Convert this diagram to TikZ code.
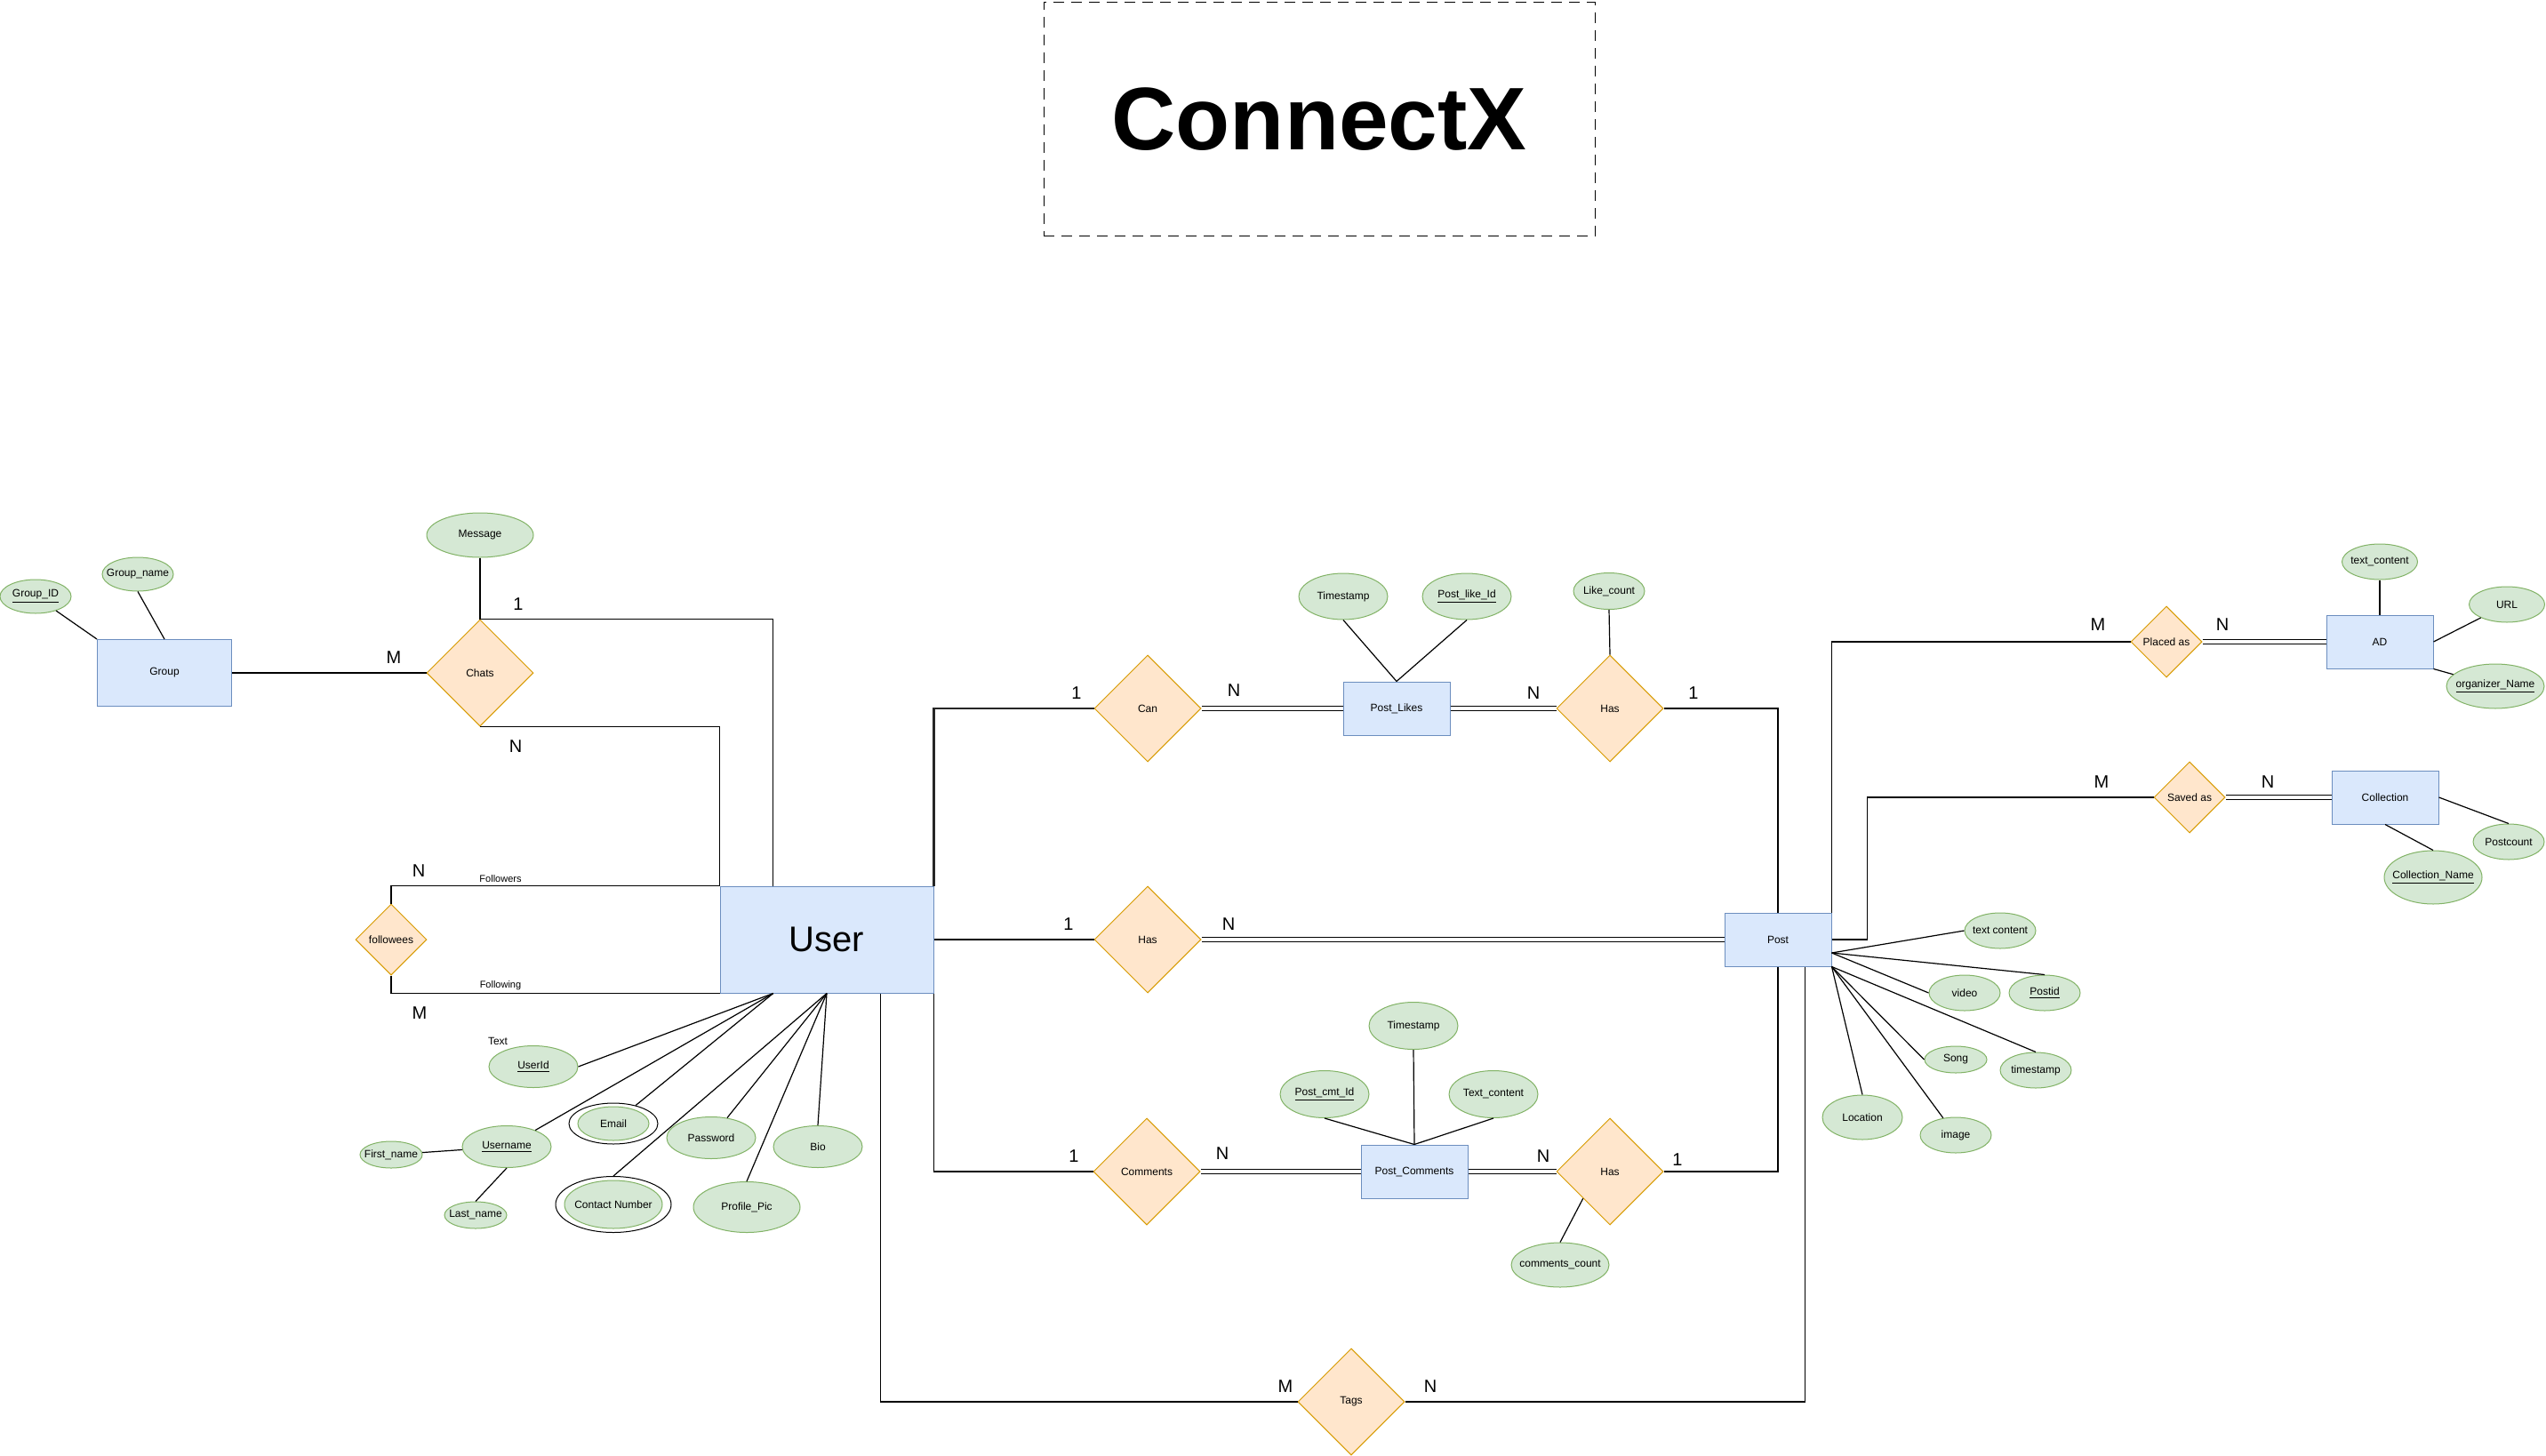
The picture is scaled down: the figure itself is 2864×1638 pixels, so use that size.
\documentclass[tikz,border=0pt]{standalone}
\usepackage{fontspec}
\setmainfont{Liberation Sans}
\usetikzlibrary{shapes.geometric,calc}
\definecolor{entf}{HTML}{DAE8FC}
\definecolor{entd}{HTML}{6C8EBF}
\definecolor{relf}{HTML}{FFE6CC}
\definecolor{reld}{HTML}{D79B00}
\definecolor{attf}{HTML}{D5E8D4}
\definecolor{attd}{HTML}{82B366}
\newcommand{\lblfont}{\fontsize{6}{7}\selectfont}
\newcommand{\cardfont}{\fontsize{10}{12}\selectfont}
\begin{document}
\begin{tikzpicture}[x=0.5pt,y=-0.5pt,
  ent/.style={rectangle,draw=entd,fill=entf,line width=0.5pt,inner sep=0pt,font=\lblfont},
  rel/.style={diamond,draw=reld,fill=relf,line width=0.5pt,inner sep=0pt,font=\lblfont},
  att/.style={ellipse,draw=attd,fill=attf,line width=0.5pt,inner xsep=-6pt,inner ysep=0pt,font=\lblfont},
  ring/.style={ellipse,draw=black,fill=white,line width=0.5pt,inner sep=0pt},
  conn/.style={draw=black,line width=0.6pt},
  thickconn/.style={draw=black!85,line width=1.1pt},
  dbl/.style={draw=black,double=white,double distance=1.6pt,line width=0.5pt},
  card/.style={font=\cardfont,inner sep=0pt},
  edgelbl/.style={font=\fontsize{5.5}{6.5}\selectfont,inner sep=0pt},
  wh/.style 2 args={minimum width={(#1)*0.5pt},minimum height={(#2)*0.5pt}}]

\useasboundingbox (0,0) rectangle (2864,1638);
\fill[white] (0,0) rectangle (2864,1638);

% Title
\node[draw=black,dash pattern=on 6pt off 4pt,line width=0.5pt,wh={620}{263},inner sep=0pt,
  font=\fontsize{50}{60}\selectfont\bfseries] (title) at (1484,134) {ConnectX};

% Group side
\node[ent,wh={151}{75}] (grp) at (185,757) {Group};
\node[att,wh={80}{38}] (gid) at (40,671) {\underline{Group\_ID}};
\node[att,wh={80}{38}] (gname) at (155,646) {Group\_name};
\node[att,wh={120}{50}] (msg) at (540,602) {Message};
\node[rel,wh={120}{120}] (chats) at (540,757) {Chats};
\node[rel,wh={80}{80}] (fol) at (440,1057) {followees};

% User
\node[ent,wh={240}{120},font=\fontsize{20}{24}\selectfont] (user) at (930,1057) {User};
\node[att,wh={100}{47}] (uid) at (600,1200) {\underline{UserId}};
\node[att,wh={100}{47}] (uname) at (570,1290) {\underline{Username}};
\node[att,wh={70}{30}] (fname) at (440,1299) {First\_name};
\node[att,wh={70}{30}] (lname) at (535,1367) {Last\_name};
\node[ring,wh={100}{46}] (emailo) at (690,1264) {};
\node[att,wh={80}{38}] (email) at (690,1264) {Email};
\node[att,wh={100}{47}] (pwd) at (800,1280) {Password};
\node[att,wh={100}{47}] (bio) at (920,1290) {Bio};
\node[ring,wh={130}{63}] (conto) at (690,1355) {};
\node[att,wh={110}{54}] (cont) at (690,1355) {Contact Number};
\node[att,wh={120}{57}] (ppic) at (840,1358) {Profile\_Pic};
\node[font=\lblfont,inner sep=0pt] (txt) at (560,1171) {Text};

% Likes row
\node[rel,wh={120}{120}] (can) at (1291,797) {Can};
\node[ent,wh={120}{60}] (plikes) at (1571,797) {Post\_Likes};
\node[att,wh={100}{52}] (ts1) at (1511,671) {Timestamp};
\node[att,wh={100}{52}] (plid) at (1650,671) {\underline{Post\_like\_Id}};
\node[rel,wh={120}{120}] (has1) at (1811,797) {Has};
\node[att,wh={80}{41}] (lcount) at (1810,665) {Like\_count};

% Post row
\node[rel,wh={120}{120}] (has2) at (1291,1057) {Has};
\node[ent,wh={120}{60}] (post) at (2000,1057) {Post};

% Comments row
\node[rel,wh={120}{120}] (cmts) at (1290,1318) {Comments};
\node[ent,wh={120}{60}] (pcmt) at (1591,1318) {Post\_Comments};
\node[att,wh={100}{53}] (ts2) at (1590,1154) {Timestamp};
\node[att,wh={100}{53}] (pcid) at (1490,1231) {\underline{Post\_cmt\_Id}};
\node[att,wh={100}{53}] (tcont) at (1680,1231) {Text\_content};
\node[rel,wh={120}{120}] (has3) at (1811,1318) {Has};
\node[att,wh={110}{50}] (ccount) at (1755,1423) {comments\_count};

% Tags
\node[rel,wh={120}{120}] (tags) at (1520,1577) {Tags};

% Post attributes
\node[att,wh={80}{40}] (ptc) at (2250,1047) {text content};
\node[att,wh={80}{40}] (pid) at (2300,1117) {\underline{Postid}};
\node[att,wh={80}{40}] (vid) at (2210,1117) {video};
\node[att,wh={70}{30}] (song) at (2200,1192) {Song};
\node[att,wh={80}{40}] (pts) at (2290,1204) {timestamp};
\node[att,wh={90}{50}] (loc) at (2095,1257) {Location};
\node[att,wh={80}{40}] (img) at (2200,1277) {image};

% AD and Collection
\node[rel,wh={80}{80}] (placed) at (2437,722) {Placed as};
\node[ent,wh={120}{60}] (ad) at (2677,722) {AD};
\node[att,wh={85}{40}] (adtc) at (2677,632) {text\_content};
\node[att,wh={85}{40}] (url) at (2820,680) {URL};
\node[att,wh={110}{50}] (org) at (2807,772) {\underline{organizer\_Name}};
\node[rel,wh={80}{80}] (saved) at (2463,897) {Saved as};
\node[ent,wh={120}{60}] (coll) at (2683,897) {Collection};
\node[att,wh={80}{40}] (pcount) at (2822,947) {Postcount};
\node[att,wh={110}{60}] (cname) at (2737,987) {\underline{Collection\_Name}};

% ---------- connectors ----------
\draw[conn] (gid) -- (grp.north west);
\draw[conn] (gname.south) -- (grp.north);
\draw[conn] (grp.east) -- (chats.west);
\draw[conn] (msg.south) -- (chats.north);
\draw[conn] (chats.north) -| ($(user.north west)!0.25!(user.north east)$);
\draw[conn] (chats.south) -| (user.north west);
\draw[conn] (fol.north) |- (user.north west);
\draw[conn] (fol.south) |- (user.south west);

\coordinate (ua) at ($(user.south west)!0.25!(user.south east)$);
\draw[conn] (ua) -- (uid.east);
\draw[conn] (ua) -- (uname);
\draw[conn] (ua) -- (emailo);
\draw[conn] (user.south) -- (conto.north);
\draw[conn] (user.south) -- (pwd);
\draw[conn] (user.south) -- (ppic.north);
\draw[conn] (user.south) -- (bio.north);
\draw[conn] (uname) -- (fname);
\draw[conn] (uname.south) -- (lname.north);

\draw[thickconn] (user.north east) |- (can.west);
\draw[dbl] (can.east) -- (plikes.west);
\draw[conn] (ts1.south) -- (plikes.north);
\draw[conn] (plid.south) -- (plikes.north);
\draw[dbl] (plikes.east) -- (has1.west);
\draw[conn] (lcount.south) -- (has1.north);
\draw[conn] (has1.east) -| (post.north);

\draw[conn] (user.east) -- (has2.west);
\draw[dbl] (has2.east) -- (post.west);

\draw[conn] (user.south east) |- (cmts.west);
\draw[dbl] (cmts.east) -- (pcmt.west);
\draw[dbl] (pcmt.east) -- (has3.west);
\draw[conn] (pcid.south) -- (pcmt.north);
\draw[conn] (ts2.south) -- (pcmt.north);
\draw[conn] (tcont.south) -- (pcmt.north);
\draw[conn] (has3.east) -| (post.south);
\draw[conn] (has3.south west) -- (ccount.north);

\draw[conn] (tags.west) -| ($(user.south west)!0.75!(user.south east)$);
\draw[conn] (tags.east) -| ($(post.south west)!0.75!(post.south east)$);

\coordinate (pa) at ([yshift=-7.5pt]post.east);
\draw[conn] (pa) -- (ptc.west);
\draw[conn] (pa) -- (pid.north);
\draw[conn] (pa) -- (vid.west);
\draw[conn] (post.south east) -- (pts.north);
\draw[conn] (post.south east) -- (song.west);
\draw[conn] (post.south east) -- (img);
\draw[conn] (post.south east) -- (loc.north);

\draw[conn] (post.north east) |- (placed.west);
\draw[dbl] (placed.east) -- (ad.west);
\draw[conn] (adtc.south) -- (ad.north);
\draw[conn] (ad.east) -- (url);
\draw[conn] (ad.south east) -- (org);
\draw[conn] (post.east) -- ([xshift=20pt]post.east) |- (saved.west);
\draw[dbl] (saved.east) -- (coll.west);
\draw[conn] (coll.east) -- (pcount.north);
\draw[conn] (coll.south) -- (cname.north);

% ---------- labels ----------
\node[card] (c1) at (583,680) {1};
\node[card] (c2) at (443,740) {M};
\node[card] (c3) at (580,840) {N};
\node[card] (c4) at (471,980) {N};
\node[card] (c5) at (472,1140) {M};
\node[edgelbl] (l1) at (563,989) {Followers};
\node[edgelbl] (l2) at (563,1109) {Following};
\node[card] (c6) at (1211,780) {1};
\node[card] (c7) at (1388,777) {N};
\node[card] (c8) at (1725,780) {N};
\node[card] (c9) at (1905,780) {1};
\node[card] (c10) at (1202,1040) {1};
\node[card] (c11) at (1382,1040) {N};
\node[card] (c12) at (1208,1301) {1};
\node[card] (c13) at (1375,1298) {N};
\node[card] (c14) at (1736,1301) {N};
\node[card] (c15) at (1887,1305) {1};
\node[card] (c16) at (1446,1560) {M};
\node[card] (c17) at (1609,1560) {N};
\node[card] (c18) at (2360,703) {M};
\node[card] (c19) at (2500,703) {N};
\node[card] (c20) at (2364,880) {M};
\node[card] (c21) at (2551,880) {N};
\end{tikzpicture}
\end{document}
